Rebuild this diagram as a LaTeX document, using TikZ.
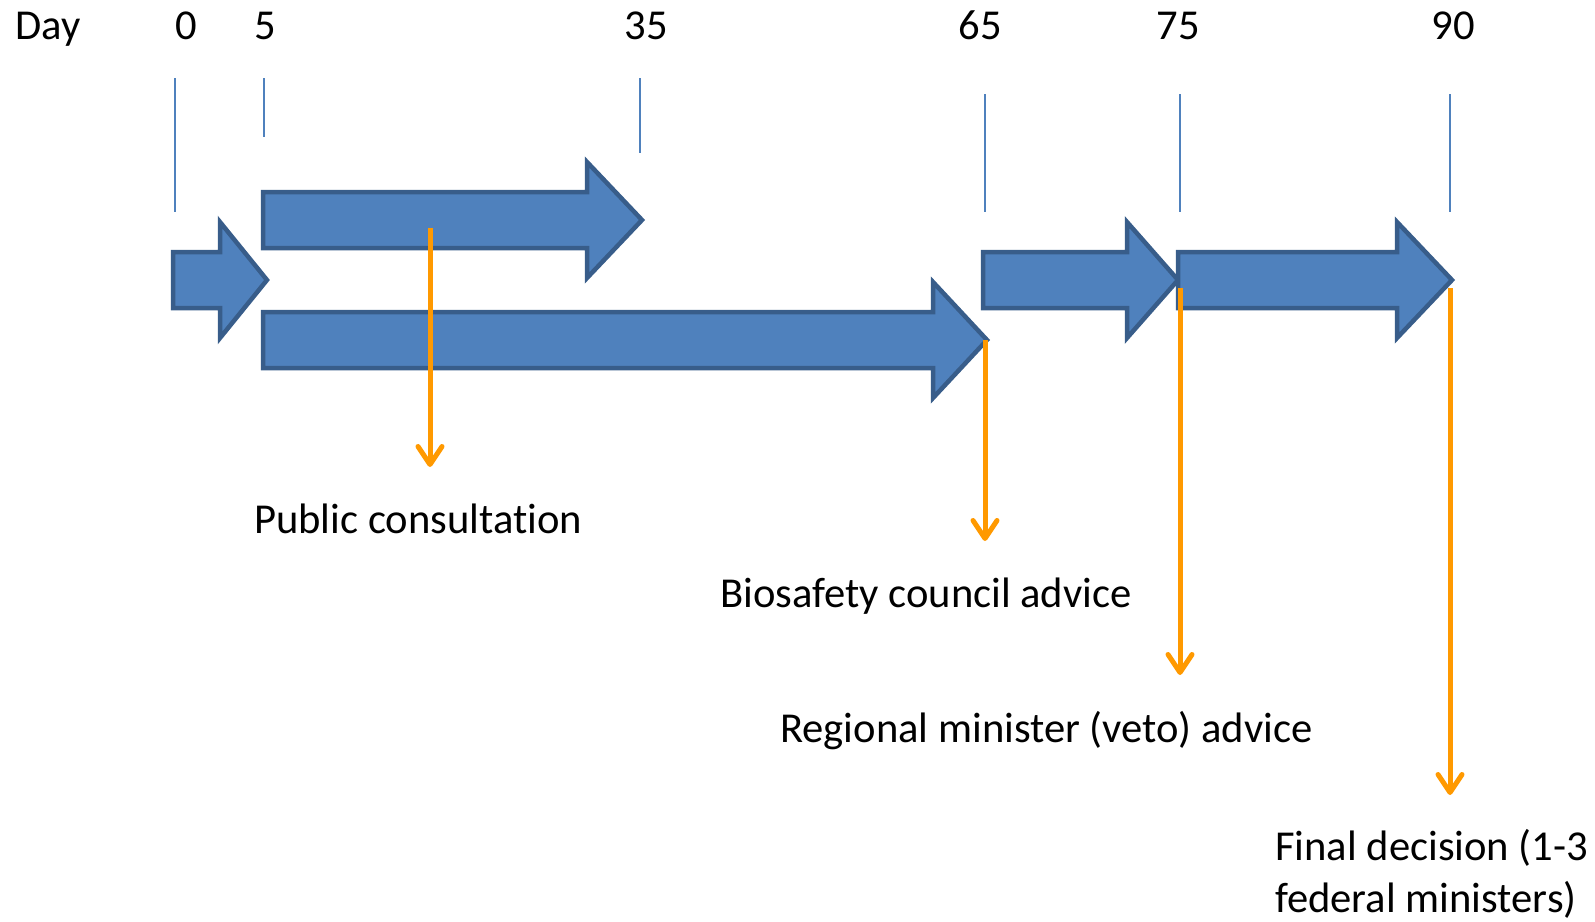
\documentclass[tikz,border=0pt]{standalone}
\usepackage{fontspec}
\setmainfont{Carlito}[RawFeature={-liga;-clig}]
\usetikzlibrary{arrows.meta}
\definecolor{tickblue}{HTML}{4F81BD}
\definecolor{fillblue}{HTML}{4F81BD}
\definecolor{edgeblue}{HTML}{385D8A}
\definecolor{orangeline}{HTML}{FF9900}
\newcommand\blockarr[5]{% x0, xbase, xtip, yc, name
  \draw[blockarrow] (#1,#4-28) -- (#2,#4-28) -- (#2,#4-58) -- (#3,#4) -- (#2,#4+58) -- (#2,#4+28) -- (#1,#4+28) -- cycle;
  \coordinate (#5) at (#3,#4);}
\begin{document}
\begin{tikzpicture}[x=1pt,y=-1pt,
  blockarrow/.style={fill=fillblue,draw=edgeblue,line width=4.5pt,line join=miter},
  tickline/.style={draw=tickblue,line width=1.6pt},
  callout/.style={draw=orangeline,line width=5pt,-{Straight Barb[length=18pt,width=24pt,line cap=round,line join=round]}},
  lbl/.style={inner sep=0pt,anchor=base west,font=\fontsize{42.6}{52}\selectfont},
  num/.style={inner sep=0pt,anchor=base,font=\fontsize{42.6}{52}\selectfont}]
\useasboundingbox (0,0) rectangle (1595,921);
% header
\node[lbl] (day) at (15,39) {Day};
\node[num] (d0) at (186,39) {0};
\node[num] (d5) at (265,39) {5};
\node[num] (d35) at (646,39) {35};
\node[num] (d65) at (980,39) {65};
\node[num] (d75) at (1178,39) {75};
\node[num] (d90) at (1453,39) {90};
% ticks
\coordinate (t0a) at (175,78);  \coordinate (t0b) at (175,212);
\coordinate (t5a) at (264,78);  \coordinate (t5b) at (264,137);
\coordinate (t35a) at (640,78); \coordinate (t35b) at (640,153);
\coordinate (t65a) at (985,94); \coordinate (t65b) at (985,212);
\coordinate (t75a) at (1180,94);\coordinate (t75b) at (1180,212);
\coordinate (t90a) at (1450,94);\coordinate (t90b) at (1450,212);
\foreach \t in {0,5,35,65,75,90} {\draw[tickline] (t\t a) -- (t\t b);}
% block arrows
\blockarr{173}{220}{267}{280}{a0}
\blockarr{263}{587}{642}{220}{a1}
\blockarr{263}{933}{987}{340}{a2}
\blockarr{983}{1127}{1178}{280}{a3}
\blockarr{1178}{1397}{1452}{280}{a4}
% labels
\node[lbl] (pc) at (254,533) {Public consultation};
\node[lbl] (bio) at (720,607) {Biosafety council advice};
\node[lbl] (reg) at (780,742) {Regional minister (veto) advice};
\node[lbl,align=left] (fin) at (1275,912) {Final decision (1-3\\federal ministers)};
% callouts
\coordinate (s1) at (430,228); \coordinate (e1) at (430,467);
\coordinate (s2) at (985,340); \coordinate (e2) at (985,541);
\coordinate (s3) at (1180,288); \coordinate (e3) at (1180,675);
\coordinate (s4) at (1450,288); \coordinate (e4) at (1450,795);
\draw[callout] (s1) -- (e1);
\draw[callout] (s2) -- (e2);
\draw[callout] (s3) -- (e3);
\draw[callout] (s4) -- (e4);
\end{tikzpicture}
\end{document}
